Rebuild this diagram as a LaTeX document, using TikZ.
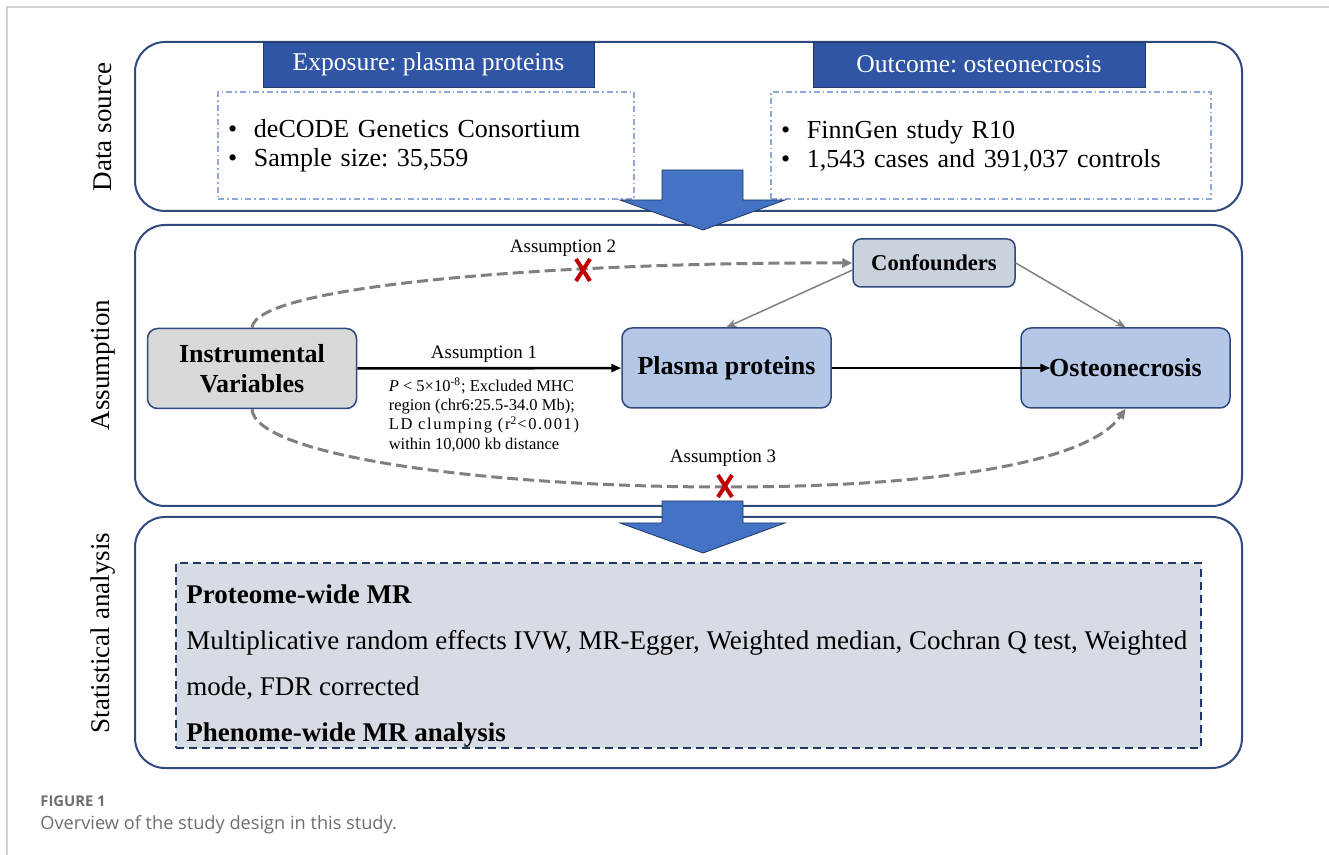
\documentclass[tikz,border=0pt]{standalone}
\usepackage{fontspec}
\setmainfont{Liberation Serif}
\newfontfamily\capfont{Open Sans}
\usetikzlibrary{arrows.meta,positioning,shapes.misc}
\frenchspacing

\definecolor{navy}{HTML}{2F4A7F}
\definecolor{hdrfill}{HTML}{2F55A4}
\definecolor{hdrline}{HTML}{1F3864}
\definecolor{dashblue}{HTML}{8EAADB}
\definecolor{blockblue}{HTML}{4472C4}
\definecolor{ivgray}{HTML}{D9D9D9}
\definecolor{varblue}{HTML}{B4C7E7}
\definecolor{confgray}{HTML}{C9D2DD}
\definecolor{statfill}{HTML}{D6DBE4}
\definecolor{linkgray}{HTML}{808080}
\definecolor{xred}{HTML}{C00000}
\definecolor{capgray}{HTML}{6D6E70}

\newcommand{\srcitem}{\makebox[13pt][l]{\textbullet}}

\begin{document}
\begin{tikzpicture}[
      x=0.5pt, y=-0.5pt,
      panel/.style={draw=navy, line width=1pt, rounded corners=15pt, minimum width=553.5pt},
      sidelbl/.style={rotate=90, font=\fontsize{13.5}{16}\selectfont},
      hdr/.style={draw=hdrline, fill=hdrfill, text=white, minimum height=22.5pt, inner sep=0pt,
        font=\fontsize{12.8}{15}\selectfont},
      srcbox/.style={draw=dashblue, line width=0.75pt, dash pattern=on 3pt off 1.5pt on 0.8pt off 1.5pt,
        minimum height=53.5pt, inner xsep=5pt, align=left, font=\fontsize{13}{14.5}\selectfont},
      var/.style={draw=navy, line width=0.75pt, rounded corners=5pt, minimum width=104.5pt,
        minimum height=40pt, align=center, font=\bfseries\fontsize{13}{15}\selectfont},
      link/.style={line width=1.3pt, -{Triangle[length=5pt, width=4pt]}},
      conflink/.style={draw=linkgray, line width=0.75pt, -{Stealth[length=5pt, width=4pt]}},
      violate/.style={draw=linkgray, line width=1.5pt, dash pattern=on 5.5pt off 2.5pt,
        -{Triangle[length=5pt, width=4.5pt]}},
      xmark/.style={cross out, draw=xred, line width=2pt, minimum width=5pt, minimum height=9pt, inner sep=0pt},
      small/.style={font=\fontsize{9.5}{11}\selectfont},
      blockarrow/.style={fill=blockblue, draw=hdrline, line width=0.4pt},
    ]
    \useasboundingbox (0,0) rectangle (1329,855);
    \draw[gray!35, line width=0.6pt] (1329,7) -- (7,7) -- (7,855);

    % three stages
    \node[panel, minimum height=84.5pt] (srcPanel) at (688.5,126.5) {};
    \node[panel, minimum height=140.5pt] (asmPanel) at (688.5,365.5) {};
    \node[panel, minimum height=125.5pt] (anaPanel) at (688.5,642.5) {};
    \node[sidelbl] (srcLbl) at (103,127) {Data source};
    \node[sidelbl] (asmLbl) at (103,365) {Assumption};
    \node[sidelbl] (anaLbl) at (103,633) {Statistical analysis};

    % data source
    \node[hdr, minimum width=165.5pt] (expHdr) at (428.5,64.5) {Exposure: plasma proteins};
    \node[hdr, minimum width=166pt] (outHdr) at (979,64.5) {Outcome: osteonecrosis};
    \node[srcbox, text width=198pt] (expSrc) at (426,145.5)
      {\srcitem deCODE Genetics Consortium\\ \srcitem Sample size: 35,559};
    \node[srcbox, text width=210pt] (outSrc) at (991,145.5)
      {\srcitem FinnGen study R10\\ \srcitem 1,543 cases and 391,037 controls};

    % assumptions
    \node[var, fill=ivgray] (iv) at (252,368.5) {Instrumental\\Variables};
    \node[var, fill=varblue] (plasma) at (726.5,368) {Plasma proteins};
    \node[var, fill=varblue] (osteo) at (1125.5,368) {Osteonecrosis};
    \node[draw=navy, fill=confgray, line width=0.75pt, rounded corners=4pt, minimum width=81pt,
      minimum height=24pt, font=\bfseries\fontsize{11.3}{13}\selectfont] (conf) at (934,263) {Confounders};

    \draw[link] (iv) -- (plasma)
      node[small, pos=0.48, above=-1pt] (a1) {Assumption 1}
      node[pos=0.48, below=1pt, align=left, font=\fontsize{8.25}{9.6}\selectfont] (a1note)
      {\textit{P} < 5×10\textsuperscript{-8}; Excluded MHC\\ region (chr6:25.5-34.0 Mb);\\
       {\addfontfeatures{LetterSpace=10}LD clumping (r\textsuperscript{2}<0.001)}\\ within 10,000 kb distance};
    \draw[link] (plasma) -- ([xshift=15pt]osteo.west);
    \draw[conflink] (conf.185) -- (plasma.north);
    \draw[conflink] (conf.east) -- (osteo.north);

    \draw[violate] (iv.north) .. controls (255,285) and (560,262) .. (conf.west);
    \draw[violate] (iv.south) .. controls (255,455) and (480,487) .. (725,487)
      .. controls (950,487) and (1090,460) .. (osteo.south);
    \node[small] (a2) at (563,248) {Assumption 2};
    \node[small] (a3) at (723,458) {Assumption 3};
    \node[xmark] (x2) at (583,270) {};
    \node[xmark] (x3) at (725,486) {};

    % analysis
    \node[draw=hdrline, fill=statfill, line width=1pt, dash pattern=on 4pt off 2.5pt,
      minimum width=512.5pt, minimum height=92.5pt] (stats) at (688.5,655.5) {};
    \node[anchor=north west, inner sep=0pt, align=left, font=\fontsize{13.5}{23}\selectfont] (statText) at (186,584)
      {\textbf{Proteome-wide MR}\\
       Multiplicative random effects IVW, MR-Egger, Weighted median, Cochran Q test, Weighted\\
       mode, FDR corrected\\
       \textbf{Phenome-wide MR analysis}};

    % stage arrows
    \foreach \t/\b in {170/200, 501/523}
      \filldraw[blockarrow] (662,\t) -- (743,\t) -- (743,\b) -- (785,\b) -- (703,\b+30)
        -- (620,\b) -- (662,\b) -- cycle;

    % caption
    \node[anchor=west, inner sep=0pt, text=capgray, font=\capfont\bfseries\fontsize{7.4}{8}\selectfont] (figNo) at (40,801) {FIGURE 1};
    \node[anchor=west, inner sep=0pt, text=capgray, font=\capfont\fontsize{9.1}{10}\selectfont] (figCap) at (40,825)
      {Overview of the study design in this study.};
\end{tikzpicture}
\end{document}
